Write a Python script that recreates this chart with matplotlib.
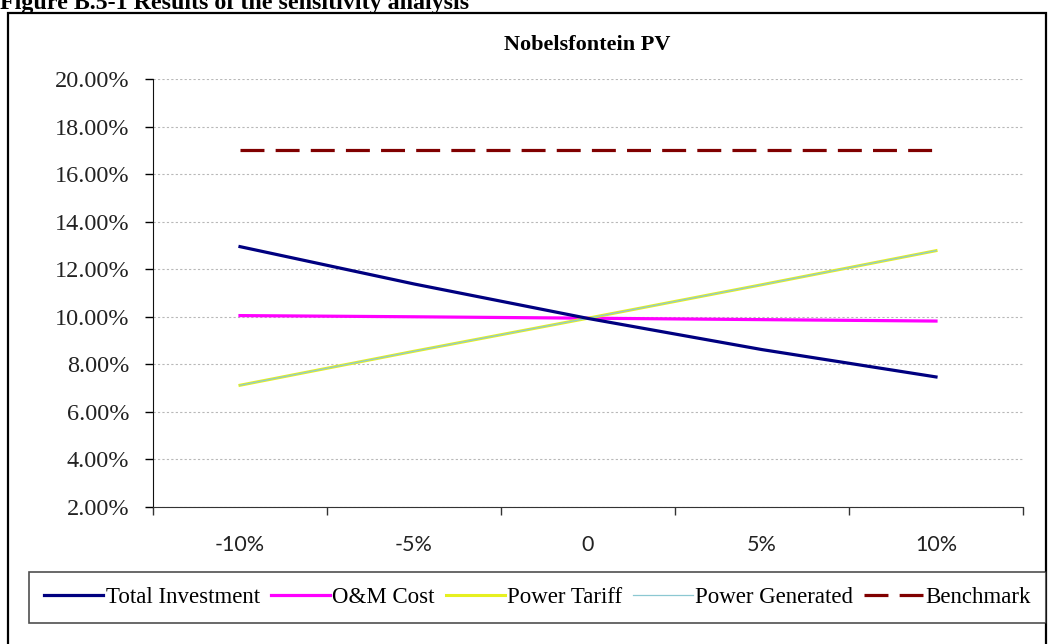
import matplotlib
matplotlib.use("Agg")
import matplotlib.pyplot as plt
from matplotlib.patches import Rectangle
from matplotlib.ticker import FuncFormatter, FixedLocator

categories = ["-10%", "-5%", "0", "5%", "10%"]
total_investment = [12.95, 11.38, 9.93, 8.62, 7.47]
om_cost = [10.05, 10.00, 9.94, 9.88, 9.82]
power_tariff = [7.12, 8.55, 9.94, 11.35, 12.78]
power_generated = [7.12, 8.55, 9.94, 11.35, 12.78]
benchmark = [17.0, 17.0, 17.0, 17.0, 17.0]
y_ticks = [2, 4, 6, 8, 10, 12, 14, 16, 18, 20]

W, H = 1048, 644
fig = plt.figure(figsize=(W / 100, H / 100), dpi=100)
fig.patch.set_facecolor("white")

serif = ["Liberation Serif", "DejaVu Serif"]
sans = ["Lato", "DejaVu Sans"]

ax = fig.add_axes([153 / W, 1 - 507 / H, (1023 - 153) / W, (507 - 79) / H])
x = list(range(len(categories)))

l1, = ax.plot(x, total_investment, color="#000080", lw=2.3, label="Total Investment", zorder=4)
l2, = ax.plot(x, om_cost, color="#FF00FF", lw=2.3, label="O&M Cost", zorder=3)
l3, = ax.plot(x, power_tariff, color="#E6F020", lw=2.2, label="Power Tariff", zorder=3)
l4, = ax.plot(x, power_generated, color="#8CC8D2", lw=0.9, label="Power Generated", zorder=3.5)
l5, = ax.plot(x, benchmark, color="#800000", lw=2.3, label="Benchmark", dashes=(7.5, 3.5), zorder=4)

ax.set_xlim(-0.5, len(categories) - 0.5)
ax.set_ylim(2, 20)
ax.yaxis.set_major_locator(FixedLocator(y_ticks))
ax.yaxis.set_major_formatter(FuncFormatter(lambda v, p: f"{v:.2f}%"))
ax.grid(axis="y", color="#b8b8b8", lw=0.8, ls=(0, (2, 2)))
ax.set_axisbelow(True)

ax.set_xticks([i - 0.5 for i in range(len(categories) + 1)])
ax.set_xticklabels([])
ax.set_xticks(x, minor=True)
ax.set_xticklabels(categories, minor=True, fontfamily=sans, fontsize=15.5, color="#222222")
ax.tick_params(axis="x", which="minor", length=0, pad=20)
ax.tick_params(axis="x", which="major", direction="out", length=6, width=1, color="#333333")
ax.tick_params(axis="y", direction="out", length=6, width=1, pad=11, labelsize=17.5)
for lab in ax.get_yticklabels():
    lab.set_fontfamily(serif)
    lab.set_color("#222222")

for s in ["top", "right"]:
    ax.spines[s].set_visible(False)
ax.spines["left"].set_color("#111111")
ax.spines["bottom"].set_color("#333333")

fig.text(587 / W, 1 - 45 / H, "Nobelsfontein PV", ha="center", va="center",
         fontfamily=serif, fontweight="bold", fontsize=16)

fig.text(0.0, 1 - 8.5 / H, "Figure B.5-1 Results of the sensitivity analysis",
         ha="left", va="baseline", fontfamily=serif, fontweight="bold", fontsize=17.3)

fig.add_artist(Rectangle((8 / W, -0.2), (1046 - 8) / W, 1.2 - 13 / H,
                         transform=fig.transFigure, fill=False, edgecolor="black",
                         lw=1.6, clip_on=False))

leg = fig.legend(handles=[l1, l2, l3, l4, l5], ncol=5, loc="center",
                 bbox_to_anchor=(29 / W, 1 - 623 / H, (1046 - 29) / W, 51 / H),
                 mode="expand", frameon=True, fancybox=False, edgecolor="#222222",
                 prop={"family": serif, "size": 16.5}, handlelength=2.6,
                 handletextpad=0.1, columnspacing=0.4, borderaxespad=0,
                 borderpad=0.65)
leg.get_frame().set_linewidth(1.2)

fig.savefig("out.png", dpi=100, facecolor="white")
